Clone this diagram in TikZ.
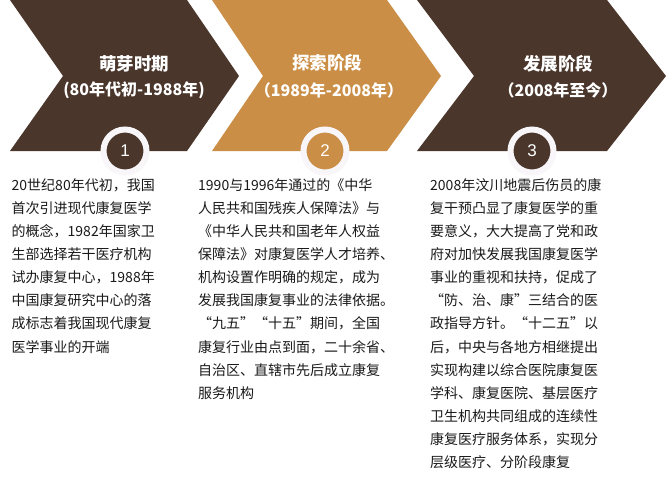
\documentclass[tikz,border=0pt]{standalone}
\usepackage{fontspec}
\newfontfamily\cjk{Noto Sans CJK SC}
\newfontfamily\cjkfw[RawFeature=+fwid]{Noto Sans CJK SC}
\newfontfamily\numfont{Liberation Sans}
\XeTeXlinebreaklocale "zh"
\XeTeXlinebreakskip=2.1pt plus 4pt minus 2.5pt
\definecolor{brownD}{HTML}{4A362B}
\definecolor{ochre}{HTML}{CA8E46}
\definecolor{ringc}{HTML}{F8F6F9}
\definecolor{txt}{HTML}{1A1A1A}
\newcommand\Jl[2]{\hbox to #1{#2}}
\newcommand\Qm[1]{{\cjkfw #1}}
\tikzset{
  chevA/.style={fill=brownD, draw=none},
  chevB/.style={fill=ochre, draw=none},
  ttl/.style={text=white, inner sep=0, font=\cjk\bfseries\fontsize{17.5}{20}\selectfont},
  subttl/.style={text=white, inner sep=0, font=\cjk\bfseries\fontsize{16}{19}\selectfont},
  badge/.style={circle, minimum size=43pt, inner sep=0, line width=6pt, draw=ringc, text=white, font=\numfont\fontsize{17}{20}\selectfont},
  body/.style={anchor=base west, inner sep=0, align=left, text=txt, font=\cjk\fontsize{14}{23.1}\selectfont}
}
\begin{document}
\begin{tikzpicture}[x=1pt,y=-1pt]
\useasboundingbox[fill=white] (0,0) rectangle (667,480);
% chevrons
\path[chevA] (10,0) -- (187,0) -- (239,76) -- (187,151) -- (10,151) -- (63,76) -- cycle;
\path[chevB] (212,0) -- (387,0) -- (441,76) -- (387,151) -- (212,151) -- (263,76) -- cycle;
\path[chevA] (417,0) -- (607,0) -- (666,76) -- (607,151) -- (417,151) -- (474,76) -- cycle;
% titles
\node[ttl] (t1) at (134,64) {萌芽时期};
\node[subttl] (s1) at (134,90) {(80年代初-1988年)};
\node[ttl] (t2) at (327,63) {探索阶段};
\node[subttl] (s2) at (329,90) {（1989年-2008年）};
\node[ttl] (t3) at (558,64) {发展阶段};
\node[subttl] (s3) at (558,90) {（2008年至今）};
% badges
\node[badge, fill=brownD] (b1) at (125,151) {1};
\node[badge, fill=ochre] (b2) at (325,151) {2};
\node[badge, fill=brownD] (b3) at (532,151) {3};
% body texts (anchored on the baseline of the last line)
\node[body] (c1) at (11.5,352) {%
\Jl{163.5pt}{20世纪80年代初，我国}\\
\Jl{163.5pt}{首次引进现代康复医学}\\
\Jl{163.5pt}{的概念，1982年国家卫}\\
\Jl{163.5pt}{生部选择若干医疗机构}\\
\Jl{163.5pt}{试办康复中心，1988年}\\
\Jl{163.5pt}{中国康复研究中心的落}\\
\Jl{163.5pt}{成标志着我国现代康复}\\
医学事业的开端};
\node[body] (c2) at (198,398.2) {%
\Jl{207pt}{1990与1996年通过的《中华}\\
\Jl{207pt}{人民共和国残疾人保障法》与}\\
\Jl{207pt}{《中华人民共和国老年人权益}\\
\Jl{207pt}{保障法》对康复医学人才培养\rlap{、}}\\
\Jl{207pt}{机构设置作明确的规定，成为}\\
\Jl{207pt}{发展我国康复事业的法律依据\rlap{。}}\\
\Jl{207pt}{\Qm{“}九五\Qm{”}\Qm{“}十五\Qm{”}期间，全国}\\
\Jl{207pt}{康复行业由点到面，二十余省\rlap{、}}\\
\Jl{207pt}{自治区、直辖市先后成立康复}\\
服务机构};
\node[body] (c3) at (430,467.5) {%
\Jl{193pt}{2008年汶川地震后伤员的康}\\
\Jl{193pt}{复干预凸显了康复医学的重}\\
\Jl{193pt}{要意义，大大提高了党和政}\\
\Jl{193pt}{府对加快发展我国康复医学}\\
\Jl{193pt}{事业的重视和扶持，促成了}\\
\Jl{193pt}{\Qm{“}防、治、康\Qm{”}三结合的医}\\
\Jl{193pt}{政指导方针。\Qm{“}十二五\Qm{”}以}\\
\Jl{193pt}{后，中央与各地方相继提出}\\
\Jl{193pt}{实现构建以综合医院康复医}\\
\Jl{193pt}{学科、康复医院、基层医疗}\\
\Jl{193pt}{卫生机构共同组成的连续性}\\
\Jl{193pt}{康复医疗服务体系，实现分}\\
层级医疗、分阶段康复};
\end{tikzpicture}
\end{document}
